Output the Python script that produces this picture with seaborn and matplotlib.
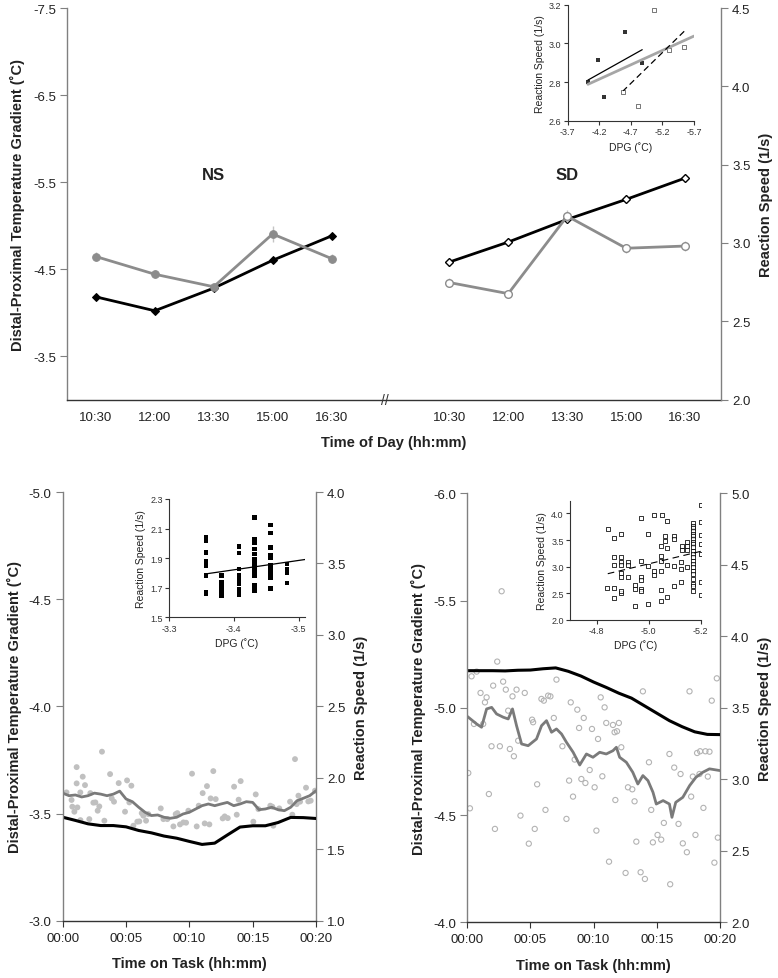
import numpy as np
import pandas as pd
import matplotlib
matplotlib.use("Agg")
import matplotlib.pyplot as plt
import seaborn as sns

# ---- data: top panel (time of day) ----
clock = ["10:30", "12:00", "13:30", "15:00", "16:30"]
ns_dpg = [-4.18, -4.02, -4.28, -4.60, -4.88]
ns_speed = [2.913, 2.80, 2.72, 3.057, 2.90]
ns_speed_err = [0.03, 0.025, 0.02, 0.05, 0.03]
sd_dpg = [-4.58, -4.81, -5.07, -5.30, -5.545]
sd_speed = [2.747, 2.676, 3.171, 2.966, 2.98]
sd_speed_err = [0.03, 0.02, 0.04, 0.03, 0.03]

# ---- bottom left: NS time on task ----
bl_min = list(range(21))
bl_dpg = [-3.483, -3.468, -3.452, -3.444, -3.444, -3.438, -3.421, -3.41, -3.395, -3.385,
          -3.37, -3.356, -3.362, -3.40, -3.437, -3.443, -3.443, -3.458, -3.482, -3.481, -3.477]
bl_smooth_t = [i * 0.5 for i in range(41)]
bl_smooth = [1.893, 1.875, 1.88, 1.866, 1.875, 1.893, 1.886, 1.875, 1.886, 1.907,
             1.852, 1.833, 1.794, 1.759, 1.736, 1.74, 1.724, 1.717, 1.724, 1.747,
             1.759, 1.782, 1.805, 1.817, 1.805, 1.817, 1.828, 1.805, 1.817, 1.833,
             1.828, 1.777, 1.782, 1.794, 1.777, 1.77, 1.794, 1.84, 1.857, 1.875, 1.91]
bl_trial_t = [0.3, 0.7, 1.1, 1.4, 0.76, 0.92, 1.16, 1.1, 1.39, 1.58, 1.76, 2.1, 2.18, 2.42,
              2.58, 2.76, 2.89, 3.1, 3.29, 3.74, 3.87, 4.05, 4.42, 4.92, 5.08, 5.26, 5.42,
              5.58, 5.89, 6.05, 6.24, 6.37, 6.58, 6.76, 7.74, 7.95, 8.26, 8.74, 8.92, 9.05,
              9.26, 9.53, 9.74, 9.92, 10.21, 10.58, 10.74, 11.05, 11.21, 11.58, 11.39, 11.68,
              11.89, 12.08, 12.63, 12.79, 13.03, 13.53, 13.74, 13.89, 14.05, 15.05, 15.24,
              15.45, 16.39, 16.55, 16.63, 17.1, 17.95, 18.13, 18.34, 18.47, 18.61, 18.74,
              19.21, 19.39, 19.58, 19.92]
bl_trial_s = [1.898, 1.845, 1.961, 1.704, 1.798, 1.763, 1.793, 2.075, 1.898, 2.008, 1.949,
              1.711, 1.893, 1.826, 1.828, 1.77, 1.8, 2.183, 1.7, 2.026, 1.856, 1.833, 1.963,
              1.763, 1.982, 1.828, 1.945, 1.665, 1.693, 1.695, 1.753, 1.735, 1.7, 1.746,
              1.786, 1.711, 1.711, 1.66, 1.746, 1.753, 1.674, 1.688, 1.686, 1.77, 2.029,
              1.66, 1.805, 1.893, 1.681, 1.674, 1.942, 1.856, 2.047, 1.851, 1.716, 1.73,
              1.718, 1.938, 1.742, 1.847, 1.977, 1.693, 1.884, 1.781, 1.805, 1.798, 1.665,
              1.786, 1.833, 1.742, 2.131, 1.816, 1.875, 1.833, 1.931, 1.835, 1.84, 1.91]

# bottom left inset
bl_in_dpg = [-3.357] * 8 + [-3.381] * 6 + [-3.408] * 9 + [-3.432] * 14 + [-3.457] * 10 + [-3.482] * 4
bl_in_speed = [2.04, 2.018, 1.939, 1.882, 1.849, 1.781, 1.669, 1.657,
               1.781, 1.736, 1.725, 1.703, 1.669, 1.646,
               1.98, 1.934, 1.826, 1.781, 1.747, 1.725, 1.691, 1.669, 1.653,
               2.176, 2.029, 2.007, 1.961, 1.928, 1.894, 1.872, 1.849, 1.826, 1.804, 1.781,
               1.714, 1.691, 1.68,
               2.124, 2.07, 1.973, 1.916, 1.905, 1.849, 1.838, 1.804, 1.77, 1.696,
               1.86, 1.826, 1.804, 1.732]

# ---- bottom right: SD time on task ----
br_min = list(range(21))
br_dpg = [-5.173, -5.173, -5.173, -5.172, -5.175, -5.176, -5.182, -5.186, -5.17, -5.148,
          -5.12, -5.095, -5.068, -5.045, -5.01, -4.975, -4.94, -4.912, -4.888, -4.876, -4.875]
br_smooth_t = [0, 0.74, 1.13, 1.53, 1.93, 2.32, 2.85, 3.24, 3.58, 3.9, 4.3, 4.82, 5.48, 5.88,
               6.27, 6.67, 7.06, 7.46, 7.85, 8.38, 8.9, 9.43, 9.95, 10.48, 11.0, 11.53, 11.8,
               12.06, 12.59, 13.1, 13.5, 13.9, 14.3, 14.7, 14.96, 15.5, 16.0, 16.2, 16.5,
               17.06, 17.6, 18.1, 18.64, 19.17, 20.0]
br_smooth = [3.44, 3.387, 3.364, 3.492, 3.503, 3.457, 3.434, 3.422, 3.492, 3.375, 3.247,
             3.235, 3.282, 3.375, 3.41, 3.329, 3.352, 3.317, 3.259, 3.189, 3.10, 3.177,
             3.154, 3.189, 3.177, 3.2, 3.224, 3.154, 3.119, 3.049, 2.967, 3.026, 2.991,
             2.909, 2.827, 2.851, 2.827, 2.734, 2.839, 2.874, 2.956, 3.014, 3.049, 3.073, 3.061]
br_trial_t = [2.37, 0.34, 0.74, 1.05, 1.53, 1.40, 2.05, 2.84, 3.05, 3.58, 3.90, 4.55, 3.24,
              1.26, 0.53, 1.92, 2.58, 3.37, 3.69, 4.03, 5.87, 6.06, 6.40, 6.58, 7.06, 6.85,
              5.13, 5.21, 7.53, 8.19, 8.5, 8.71, 8.85, 9.22, 9.87, 10.35, 10.56, 10.87, 11.0,
              11.53, 11.66, 11.85, 12.0, 12.19, 13.9, 16.0, 17.59, 18.19, 18.43, 18.85, 19.17,
              19.35, 19.75, 2.72,
              0.08, 0.21, 1.71, 2.19, 4.21, 4.87, 5.34, 5.53, 6.19, 7.85, 8.06, 8.37, 9.03,
              9.35, 9.69, 10.08, 10.22, 10.69, 11.22, 11.72, 12.53, 12.72, 13.06, 13.24, 13.38,
              13.72, 14.06, 14.38, 14.56, 14.69, 15.06, 15.35, 15.56, 16.06, 16.38, 16.72,
              16.88, 17.06, 17.38, 17.72, 17.85, 18.06, 18.38, 18.69, 19.04, 19.56, 19.83]
br_trial_s = [3.823, 3.72, 3.753, 3.604, 3.573, 3.538, 3.655, 3.683, 3.627, 3.58, 3.627,
              3.604, 3.48, 3.387, 3.387, 3.231, 3.231, 3.212, 3.161, 3.27, 3.562, 3.55,
              3.585, 3.58, 3.697, 3.429, 3.417, 3.399, 3.231, 3.538, 3.138, 3.487, 3.359,
              3.429, 3.352, 3.282, 3.573, 3.503, 3.394, 3.38, 3.329, 3.336, 3.394, 3.224,
              3.615, 3.177, 3.615, 3.184, 3.196, 3.196, 3.193, 3.55, 3.706, 4.315,
              3.044, 2.797, 2.897, 2.653, 2.746, 2.55, 2.653, 2.965, 2.786, 2.723, 2.991,
              2.879, 3.002, 2.974, 3.065, 2.944, 2.641, 3.021, 2.424, 2.855, 2.345, 2.944,
              2.93, 2.846, 2.564, 2.35, 2.303, 3.119, 2.786, 2.559, 2.611, 2.578, 2.695,
              2.266, 3.082, 2.688, 3.037, 2.552, 2.49, 2.879, 3.019, 2.611, 3.037, 2.8,
              3.019, 2.417, 2.592]

# bottom right inset
br_in_dpg = [-4.842, -4.867, -4.894, -4.971, -5.021, -5.05, -5.072, -4.999, -5.063, -5.063,
             -5.097, -5.097, -5.046, -5.072, -5.127, -5.149, -5.149, -5.127, -5.149,
             -5.2, -5.2, -5.2, -5.2, -5.2, -5.2, -5.2,
             -4.867, -4.894, -4.971, -4.999, -5.047, -5.047, -5.072, -5.097, -5.124, -5.124,
             -5.149, -4.867, -4.894, -4.894, -4.922, -4.922, -4.894, -4.894, -4.922, -4.947,
             -4.971, -4.971, -5.021, -5.021, -5.047, -5.097, -5.124, -4.841, -4.867, -4.892,
             -4.892, -4.947, -4.971, -4.971, -5.047, -4.867, -4.947, -4.999, -5.047, -5.072] + [-5.172] * 22
br_in_speed = [3.706, 3.538, 3.606, 3.906, 3.969, 3.969, 3.856, 3.613, 3.581, 3.488,
               3.581, 3.519, 3.394, 3.344, 3.394, 3.469, 3.394, 3.319, 3.319,
               4.156, 3.844, 3.594, 3.419, 3.238, 2.719, 2.469,
               3.188, 3.188, 3.113, 3.019, 3.206, 3.113, 3.031, 3.019, 3.094, 2.956,
               2.988, 3.031, 3.081, 3.031, 3.081, 3.031, 2.881, 2.8, 2.8, 2.663,
               2.8, 2.756, 2.925, 2.844, 2.925, 2.644, 2.719, 2.594, 2.594, 2.5,
               2.55, 2.581, 2.581, 2.538, 2.563, 2.413, 2.269, 2.3, 2.35, 2.425,
               3.819, 3.769, 3.719, 3.669, 3.619, 3.569, 3.519, 3.469, 3.419, 3.363, 3.3,
               3.238, 3.175, 3.113, 3.05, 2.988, 2.925, 2.863, 2.769, 2.675, 2.631, 2.55]

# ---- style ----
sns.set_style("ticks")
plt.rcParams['font.family'] = ['Liberation Sans', 'DejaVu Sans']
plt.rcParams['axes.unicode_minus'] = False
plt.rcParams['axes.linewidth'] = 1.0

GREY = "#8c8c8c"
DARKGREY = "#7a7a7a"
SPINE = "#808080"
TXT = "#222222"
LBL = dict(fontsize=10.5, fontweight="bold", color=TXT)
DPG_LABEL = "Distal-Proximal Temperature Gradient (\u02daC)"
RS_LABEL = "Reaction Speed (1/s)"


def style_main(ax, axr):
    ax.spines["top"].set_visible(False)
    ax.spines["right"].set_visible(False)
    ax.spines["left"].set_color(SPINE)
    ax.spines["bottom"].set_color("#333333")
    for s in ["top", "left", "bottom"]:
        axr.spines[s].set_visible(False)
    axr.spines["right"].set_color(SPINE)
    ax.tick_params(axis="y", direction="out", length=5, color=SPINE, labelsize=9.5, labelcolor=TXT, pad=3)
    axr.tick_params(axis="y", direction="out", length=5, color=SPINE, labelsize=9.5, labelcolor=TXT, pad=3)
    ax.tick_params(axis="x", labelsize=9.5, labelcolor=TXT)


def style_inset(ax):
    ax.set_facecolor("none")
    ax.spines["top"].set_visible(False)
    ax.spines["right"].set_visible(False)
    for s in ["left", "bottom"]:
        ax.spines[s].set_color("#333333")
        ax.spines[s].set_linewidth(0.8)
    ax.tick_params(direction="out", length=3, width=0.8, labelsize=6.5, colors="#333333", pad=1.5)


fig = plt.figure(figsize=(7.78, 9.79), dpi=100)

# ================= top panel =================
ax = fig.add_axes([0.0861, 0.5909, 0.8406, 0.3999])
axr = ax.twinx()
ns_x = np.arange(len(clock))
sd_x = np.arange(len(clock)) + len(clock) + 1

sns.lineplot(x=ns_x, y=ns_dpg, ax=ax, color="black", lw=2, marker="D", markersize=4.5,
             markeredgecolor="black", markerfacecolor="black", zorder=3)
sns.lineplot(x=sd_x, y=sd_dpg, ax=ax, color="black", lw=2, marker="D", markersize=4.5,
             markeredgecolor="black", markerfacecolor="white", markeredgewidth=1, zorder=3)
axr.errorbar(ns_x, ns_speed, yerr=ns_speed_err, fmt="none", ecolor="#c4c4c4", elinewidth=1)
axr.errorbar(sd_x, sd_speed, yerr=sd_speed_err, fmt="none", ecolor="#c4c4c4", elinewidth=1)
sns.lineplot(x=ns_x, y=ns_speed, ax=axr, color=GREY, lw=2, marker="o", markersize=5.5,
             markeredgecolor=GREY, markerfacecolor=GREY)
sns.lineplot(x=sd_x, y=sd_speed, ax=axr, color=GREY, lw=2, marker="o", markersize=5.5,
             markeredgecolor=GREY, markerfacecolor="white", markeredgewidth=1)

ax.set_xlim(-0.49, 10.61)
ax.set_ylim(-3.0, -7.5)
ax.set_yticks([-7.5, -6.5, -5.5, -4.5, -3.5])
axr.set_ylim(2.0, 4.5)
axr.set_yticks([2.0, 2.5, 3.0, 3.5, 4.0, 4.5])
ax.set_xticks(list(ns_x) + list(sd_x))
ax.set_xticklabels(clock + clock)
style_main(ax, axr)
ax.tick_params(axis="x", length=0, pad=8)
ax.set_xlabel("Time of Day (hh:mm)", labelpad=9, **LBL)
ax.set_ylabel(DPG_LABEL, labelpad=6, **LBL)
axr.set_ylabel(RS_LABEL, labelpad=6, **LBL)
ax.text(ns_x[2], -5.59, "NS", ha="center", va="center", fontsize=12, fontweight="bold", color=TXT)
ax.text(sd_x[2], -5.59, "SD", ha="center", va="center", fontsize=12, fontweight="bold", color=TXT)
ax.text(len(clock) - 0.1, 0.0, "//", transform=ax.get_xaxis_transform(), ha="center", va="center",
        fontsize=10, color="#333333", clip_on=False)

# top inset (same means, DPG vs speed)
axi = fig.add_axes([0.7297, 0.8757, 0.1623, 0.1185])
style_inset(axi)
axi.set_xlim(-3.7, -5.7)
axi.set_ylim(2.6, 3.2)
all_dpg = np.array(ns_dpg + sd_dpg)
all_speed = np.array(ns_speed + sd_speed)
k, b = np.polyfit(all_dpg, all_speed, 1)
xs = np.array([all_dpg.max(), -5.7])
axi.plot(xs, k * xs + b, color="#a6a6a6", lw=2)
sns.regplot(x=ns_dpg, y=ns_speed, ax=axi, ci=None, truncate=True, marker="s",
            scatter_kws=dict(s=9, color="black", linewidths=0),
            line_kws=dict(color="black", lw=0.9))
sns.regplot(x=sd_dpg, y=sd_speed, ax=axi, ci=None, truncate=True, marker="s",
            scatter_kws=dict(s=8, facecolors="white", edgecolors="#555555", linewidths=0.7),
            line_kws=dict(color="black", lw=0.9, dashes=(5, 3)))
axi.set_xlim(-3.7, -5.7)
axi.set_ylim(2.6, 3.2)
axi.set_xticks([-3.7, -4.2, -4.7, -5.2, -5.7])
axi.set_yticks([2.6, 2.8, 3.0, 3.2])
axi.set_xlabel("DPG (\u02daC)", fontsize=7.5, color=TXT, labelpad=4)
axi.set_ylabel(RS_LABEL, fontsize=7.5, color=TXT, labelpad=3)

# ================= bottom left =================
ax = fig.add_axes([0.0806, 0.0585, 0.3256, 0.4379])
axr = ax.twinx()
sns.scatterplot(x=bl_trial_t, y=bl_trial_s, ax=axr, color="#c0c0c0", s=18, edgecolor="none")
sns.lineplot(x=bl_smooth_t, y=bl_smooth, ax=axr, color=DARKGREY, lw=2)
sns.lineplot(x=bl_min, y=bl_dpg, ax=ax, color="black", lw=2.2)
ax.set_zorder(axr.get_zorder() + 1)
ax.patch.set_visible(False)
ax.set_xlim(0, 20)
ax.set_ylim(-3.0, -5.0)
ax.set_yticks([-5.0, -4.5, -4.0, -3.5, -3.0])
axr.set_ylim(1.0, 4.0)
axr.set_yticks([1.0, 1.5, 2.0, 2.5, 3.0, 3.5, 4.0])
ax.set_xticks([0, 5, 10, 15, 20])
ax.set_xticklabels(["00:00", "00:05", "00:10", "00:15", "00:20"])
style_main(ax, axr)
ax.tick_params(axis="x", direction="out", length=4, color="#333333", pad=4)
ax.set_xlabel("Time on Task (hh:mm)", labelpad=9, **LBL)
ax.set_ylabel(DPG_LABEL, labelpad=5, **LBL)
axr.set_ylabel(RS_LABEL, labelpad=6, **LBL)

axi = fig.add_axes([0.2172, 0.3684, 0.1748, 0.1209])
style_inset(axi)
sns.scatterplot(x=bl_in_dpg, y=bl_in_speed, ax=axi, marker="s", color="black", s=11, edgecolor="none")
k, b = np.polyfit(bl_in_dpg, bl_in_speed, 1)
xs = np.array([max(bl_in_dpg), -3.51])
axi.plot(xs, k * xs + b, color="black", lw=0.9)
axi.set_xlim(-3.3, -3.51)
axi.set_ylim(1.5, 2.3)
axi.set_xticks([-3.3, -3.4, -3.5])
axi.set_yticks([1.5, 1.7, 1.9, 2.1, 2.3])
axi.set_xlabel("DPG (\u02daC)", fontsize=7.5, color=TXT, labelpad=3)
axi.set_ylabel(RS_LABEL, fontsize=7.5, color=TXT, labelpad=3)

# ================= bottom right =================
ax = fig.add_axes([0.6006, 0.0569, 0.3248, 0.4382])
axr = ax.twinx()
sns.scatterplot(x=br_trial_t, y=br_trial_s, ax=axr, s=14, facecolors="none",
                edgecolors="#b3b3b3", linewidths=0.8, marker="o")
sns.lineplot(x=br_smooth_t, y=br_smooth, ax=axr, color=DARKGREY, lw=2)
sns.lineplot(x=br_min, y=br_dpg, ax=ax, color="black", lw=2.2)
ax.set_zorder(axr.get_zorder() + 1)
ax.patch.set_visible(False)
ax.set_xlim(0, 20)
ax.set_ylim(-4.0, -6.0)
ax.set_yticks([-6.0, -5.5, -5.0, -4.5, -4.0])
axr.set_ylim(2.0, 5.0)
axr.set_yticks([2.0, 2.5, 3.0, 3.5, 4.0, 4.5, 5.0])
ax.set_xticks([0, 5, 10, 15, 20])
ax.set_xticklabels(["00:00", "00:05", "00:10", "00:15", "00:20"])
style_main(ax, axr)
ax.tick_params(axis="x", direction="out", length=4, color="#333333", pad=4)
ax.set_xlabel("Time on Task (hh:mm)", labelpad=9, **LBL)
ax.set_ylabel(DPG_LABEL, labelpad=5, **LBL)
axr.set_ylabel(RS_LABEL, labelpad=6, **LBL)

axi = fig.add_axes([0.7326, 0.3657, 0.168, 0.1219])
style_inset(axi)
sns.regplot(x=br_in_dpg, y=br_in_speed, ax=axi, ci=None, truncate=True, marker="s",
            scatter_kws=dict(s=7, facecolors="white", edgecolors="black", linewidths=0.7),
            line_kws=dict(color="black", lw=0.8, dashes=(6, 4)))
axi.set_xlim(-4.697, -5.2)
axi.set_ylim(2.0, 4.24)
axi.set_xticks([-4.8, -5.0, -5.2])
axi.set_yticks([2.0, 2.5, 3.0, 3.5, 4.0])
axi.set_xlabel("DPG (\u02daC)", fontsize=7.5, color=TXT, labelpad=3)
axi.set_ylabel(RS_LABEL, fontsize=7.5, color=TXT, labelpad=3)

fig.savefig("out.png", dpi=100)
